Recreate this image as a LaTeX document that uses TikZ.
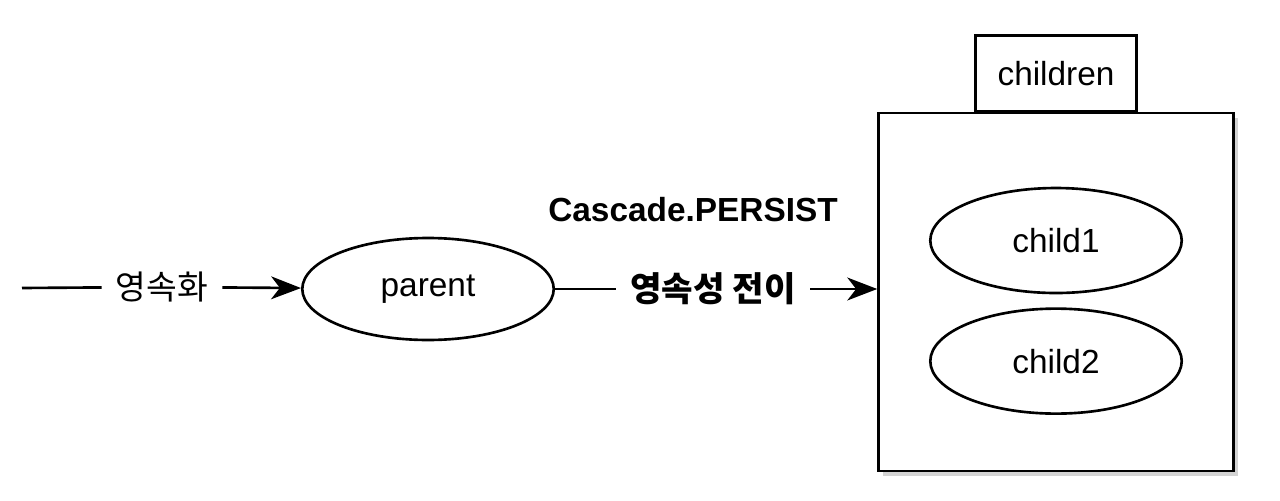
\documentclass[tikz,border=0pt]{standalone}
\usepackage{fontspec}
\setmainfont{Liberation Sans}
\newfontfamily\kr{Noto Sans CJK KR}
\usepackage{tikz}
\usetikzlibrary{arrows.meta,positioning,shadows,shapes.geometric}

\begin{document}
\begin{tikzpicture}[
  x=0.02cm,y=-0.02cm,
  every node/.style={font=\fontsize{19}{22}\selectfont},
  obj/.style={draw,ellipse,line width=1.5pt,minimum width=5.03cm,minimum height=2.1cm},
  lbl/.style={inner xsep=8pt,inner ysep=2pt},
  boxed/.style={draw,line width=1.5pt,fill=white,minimum width=7.1cm,minimum height=7.16cm,
    drop shadow={opacity=0.35,shadow xshift=2.5pt,shadow yshift=-3pt}},
  tab/.style={draw,line width=1.5pt,fill=white,minimum width=3.22cm,minimum height=1.52cm,outer sep=0pt},
  line/.style={line width=1.5pt},
  arrow/.style={line width=1.5pt,-{Stealth[length=17pt,width=13pt,inset=5pt]}}
]
\useasboundingbox (0,0) rectangle (1280,500);
\coordinate (start) at (22,288);
\node[lbl] (persist) at (162,287) {\kr 영속화};
\node[obj,minimum height=2.04cm] (parent) at (428,289) {parent};
\node[lbl,font=\fontsize{19.5}{22}\selectfont] (transfer) at (713,289) {\kr\bfseries 영속성 전이};
\node (cascade) at (693,210) {\bfseries Cascade.PERSIST};
\node[boxed] (children) at (1056,292) {};
\node[tab,anchor=south] (tab) at (children.north) {children};
\node[obj,below=1.5cm of children.north] (child1) {child1};
\node[obj,below=0.26cm of child1] (child2) {child2};
\draw[line] (start) -- (persist);
\draw[arrow] (persist) -- (parent);
\draw[line] (parent) -- (transfer);
\draw[arrow] (transfer) -- (transfer -| children.west);
\end{tikzpicture}
\end{document}
